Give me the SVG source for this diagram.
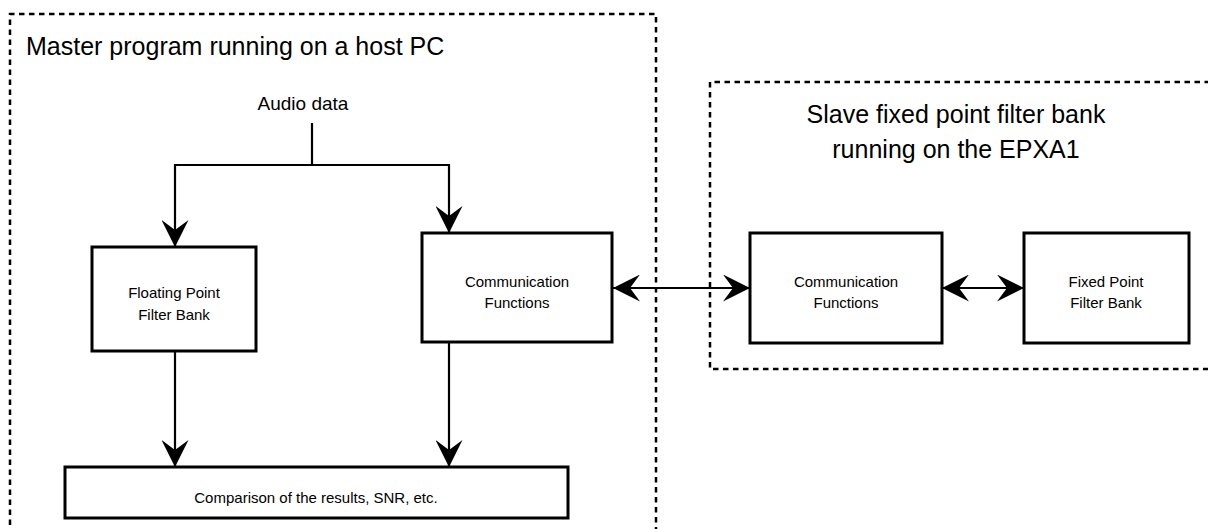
<svg xmlns="http://www.w3.org/2000/svg" width="1208" height="529" viewBox="0 0 1208 529">
  <style>
    .frame { fill: none; stroke: #000; stroke-width: 2.5; stroke-dasharray: 5.5 4.5; }
    .box { fill: #fff; stroke: #000; stroke-width: 3; }
    .wire { fill: none; stroke: #000; stroke-width: 2.2; }
    .big { font-family: "Liberation Sans", Arial, sans-serif; font-size: 25px; fill: #000; }
    .mid { font-family: "Liberation Sans", Arial, sans-serif; font-size: 19px; fill: #000; }
    .small { font-family: "Liberation Sans", Arial, sans-serif; font-size: 15px; fill: #000; text-anchor: middle; }
  </style>
  <defs>
    <marker id="head" viewBox="0 0 27 27" refX="27" refY="13.5" markerWidth="27" markerHeight="27" markerUnits="userSpaceOnUse" orient="auto-start-reverse">
      <path d="M0,0 L27,13.5 L0,27 L10,13.5 Z" fill="#000"/>
    </marker>
  </defs>
  <rect width="1208" height="529" fill="#fff"/>

  <!-- host PC frame -->
  <g id="host-frame">
    <path class="frame" d="M10,545 L10,14 L656,14 L656,545"/>
    <text class="big" x="26" y="55">Master program running on a host PC</text>
  </g>

  <!-- EPXA1 frame -->
  <g id="epxa1-frame">
    <path class="frame" d="M1220,82 L710,82 L710,369 L1220,369"/>
    <text class="big" x="956" y="123" text-anchor="middle">Slave fixed point filter bank</text>
    <text class="big" x="956" y="158" text-anchor="middle">running on the EPXA1</text>
  </g>

  <g id="audio-data">
    <text class="mid" x="303" y="110" text-anchor="middle">Audio data</text>
  </g>

  <g id="connectors">
    <path class="wire" d="M312,123 L312,165"/>
    <path class="wire" d="M175,165 L449,165"/>
    <path class="wire" d="M175,164 L175,247" marker-end="url(#head)"/>
    <path class="wire" d="M449,164 L449,233" marker-end="url(#head)"/>
    <path class="wire" d="M175,351 L175,467" marker-end="url(#head)"/>
    <path class="wire" d="M449,342 L449,467" marker-end="url(#head)"/>
    <path class="wire" d="M613,288 L750,288" marker-start="url(#head)" marker-end="url(#head)"/>
    <path class="wire" d="M942,288 L1024,288" marker-start="url(#head)" marker-end="url(#head)"/>
  </g>

  <g id="float-bank">
    <rect class="box" x="92" y="247" width="164" height="104"/>
    <text class="small" x="174" y="298">Floating Point</text>
    <text class="small" x="174" y="320">Filter Bank</text>
  </g>

  <g id="host-comm">
    <rect class="box" x="422" y="233" width="190" height="109"/>
    <text class="small" x="517" y="287">Communication</text>
    <text class="small" x="517" y="308">Functions</text>
  </g>

  <g id="compare">
    <rect class="box" x="65" y="467" width="503" height="51"/>
    <text class="small" x="316" y="503">Comparison of the results, SNR, etc.</text>
  </g>

  <g id="target-comm">
    <rect class="box" x="750" y="233" width="192" height="110"/>
    <text class="small" x="846" y="287">Communication</text>
    <text class="small" x="846" y="308">Functions</text>
  </g>

  <g id="fixed-bank">
    <rect class="box" x="1024" y="233" width="165" height="110"/>
    <text class="small" x="1106" y="287">Fixed Point</text>
    <text class="small" x="1106" y="308">Filter Bank</text>
  </g>
</svg>
